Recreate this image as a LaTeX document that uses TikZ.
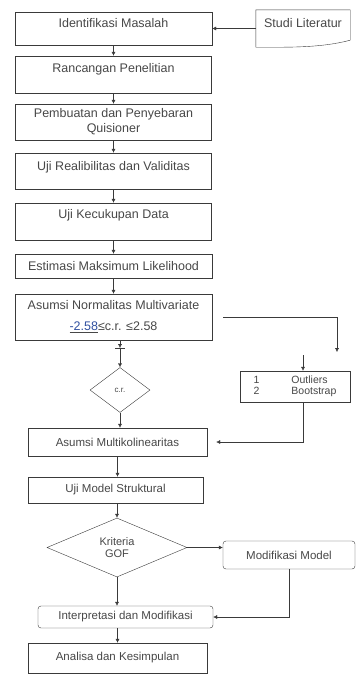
\documentclass[tikz,border=0pt]{standalone}
\usepackage{fontspec}
\setmainfont{Liberation Sans}
\usetikzlibrary{shapes.geometric,arrows.meta}

\definecolor{garis}{HTML}{3A3A3A}
\definecolor{teks}{HTML}{474747}
\definecolor{tautan}{HTML}{3050A0}

\tikzset{
	kotak/.style={draw=garis, thin, text=teks, align=center, inner xsep=2pt,
		font=\fontsize{12.5}{15}\selectfont},
	kecil/.style={font=\fontsize{11.5}{13.5}\selectfont},
	atas/.style 2 args={text height=#1, text depth=#2, inner ysep=0pt},
	belah/.style={draw=garis, thin, diamond, text=teks, align=center, inner sep=0pt},
	panah/.style={draw=garis, thin, -{Latex[length=4pt,width=4pt]}},
}

\begin{document}
\begin{tikzpicture}[x=1pt, y=-1pt]

	\useasboundingbox (0,0) rectangle (361,675);

	%kolom utama
	\node [kotak, atas={15pt}{18pt}, minimum width=197, minimum height=33] (ident) at (113.5,28.5) {Identifikasi Masalah};
	\node [kotak, atas={16.5pt}{20.5pt}, minimum width=196, minimum height=37] (ranc) at (113.5,74.5) {Rancangan Penelitian};
	\node [kotak, minimum width=196, minimum height=36] (quis) at (113.5,122) {Pembuatan dan Penyebaran\\Quisioner};
	\node [kotak, atas={17pt}{19pt}, minimum width=196, minimum height=36] (reliab) at (113.5,171) {Uji Realibilitas dan Validitas};
	\node [kotak, atas={15.5pt}{21.5pt}, minimum width=196, minimum height=37] (cukup) at (113.5,221.5) {Uji Kecukupan Data};
	\node [kotak, minimum width=197, minimum height=24] (estim) at (113.5,266) {Estimasi Maksimum Likelihood};
	\node [kotak, minimum width=197, minimum height=46] (normal) at (113.5,317) {Asumsi Normalitas Multivariate\\[6pt]\underline{\textcolor{tautan}{-2.58}}≤c.r. ≤2.58};

	%studi literatur (dokumen)
	\node [kotak, draw=none, atas={17.5pt}{19.5pt}, minimum width=94, minimum height=37] (studi) at (303,28.5) {Studi Literatur};
	\draw [garis, thin] (studi.north west) -- (studi.north east) -- ([yshift=7pt]studi.south east)
		.. controls +(-30,8) and +(30,0) .. (studi.south west) -- cycle;

	%outliers
	\node [kotak, minimum width=110, minimum height=31, font=\fontsize{10.5}{11}\selectfont] (outl) at (295,386.5)
		{\begin{tabular}{@{}l@{\hspace{32pt}}l@{}}1 & Outliers\\2 & Bootstrap\end{tabular}};

	%bagian bawah
	\node [belah, minimum width=60, minimum height=45, font=\fontsize{8}{9}\selectfont] (cr) at (120,390) {c.r.};
	\node [kotak, kecil, minimum width=179, minimum height=28] (multi) at (117.5,442) {Asumsi Multikolinearitas};
	\node [kotak, kecil, minimum width=175, minimum height=26] (struk) at (115.5,490) {Uji Model Struktural};
	\node [belah, minimum width=140, minimum height=59, font=\fontsize{11}{12}\selectfont] (gof) at (117,547.5) {Kriteria\\GOF};
	\node [kotak, kecil, rounded corners=3pt, minimum width=132, minimum height=28] (modif) at (289,555) {Modifikasi Model};
	\node [kotak, kecil, rounded corners=3pt, minimum width=175, minimum height=22] (interp) at (125.5,617) {Interpretasi dan Modifikasi};
	\node [kotak, kecil, minimum width=179, minimum height=30] (analisa) at (117.5,658) {Analisa dan Kesimpulan};

	%panah
	\foreach \a/\b in {ident/ranc, ranc/quis, quis/reliab, reliab/cukup, cukup/estim, estim/normal}
	{
		\draw [panah] (\a) -- (\b);
	}
	\draw [panah] (studi) -- (ident);
	\coordinate (sela) at (120,348);
	\draw [panah] (normal.south -| sela) -- (sela);
	\draw [garis, thin] ([xshift=-5pt]sela) -- ([xshift=5pt]sela);
	\draw [panah] (sela) -- (cr.north);
	\draw [panah] (cr.south) -- (cr.south |- multi.north);
	\draw [panah] (multi.south) -- (multi.south |- struk.north);
	\draw [panah] (struk.south -| gof.north) -- (gof.north);
	\draw [panah] (gof.south) -- (gof.south |- interp.north);
	\draw [panah] (gof.east) -- (gof.east -| modif.west);
	\draw [panah] (modif.south) |- (interp.east);
	\draw [panah] (analisa.north |- interp.south) -- (analisa.north);

	%cabang ke outliers
	\coordinate (belok) at (337,352);
	\coordinate (turun) at (303,355);
	\draw [panah, shorten <=11pt] (normal.east) -| (belok);
	\draw [panah] (turun) -- (turun |- outl.north);
	\draw [panah, shorten >=9pt] (turun |- outl.south) |- (multi.east);

\end{tikzpicture}
\end{document}
